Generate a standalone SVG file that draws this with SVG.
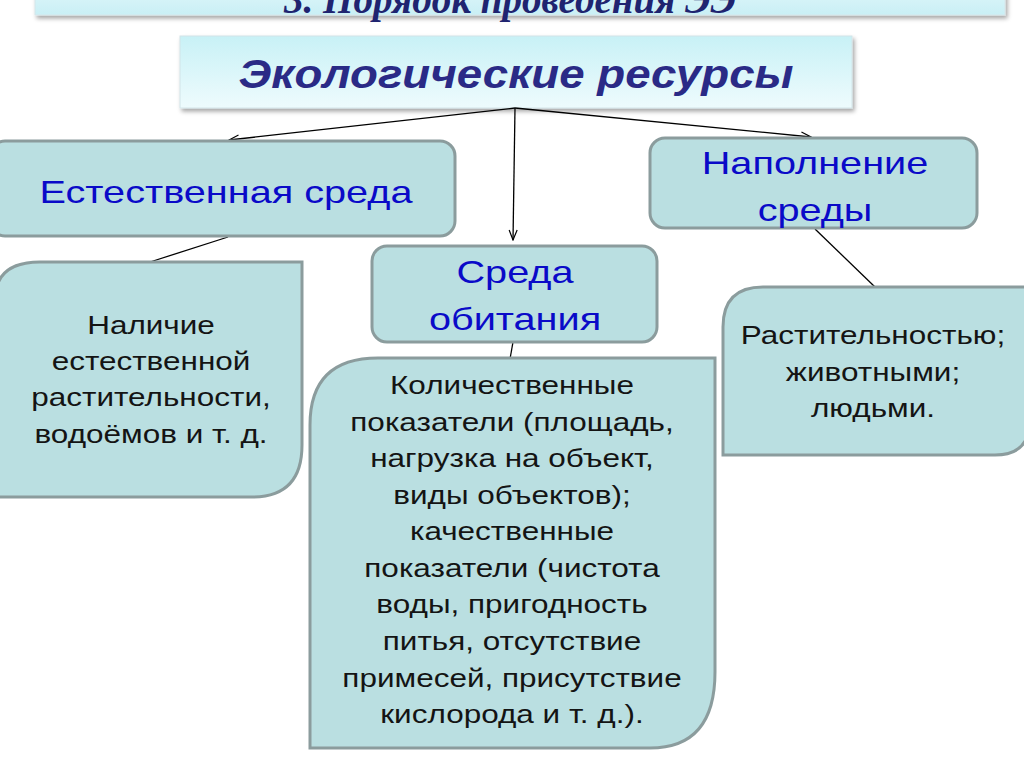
<svg xmlns="http://www.w3.org/2000/svg" width="1024" height="767" viewBox="0 0 1024 767">
<defs>
<linearGradient id="hdr" x1="0" y1="0" x2="0" y2="1">
<stop offset="0" stop-color="#f4fdfe"/>
<stop offset="1" stop-color="#c9eff5"/>
</linearGradient>
<linearGradient id="main" x1="0" y1="0" x2="0" y2="1">
<stop offset="0" stop-color="#c8f1f6"/>
<stop offset="1" stop-color="#eefbfd"/>
</linearGradient>
<filter id="sh" x="-5%" y="-10%" width="110%" height="130%">
<feDropShadow dx="2" dy="3" stdDeviation="2" flood-color="#000" flood-opacity="0.35"/>
</filter>
<marker id="arr" markerWidth="12" markerHeight="10" refX="11" refY="5" orient="auto" markerUnits="userSpaceOnUse">
<path d="M1,1 L11,5 L1,9" fill="none" stroke="#000" stroke-width="1.2"/>
</marker>
</defs>
<style>
.node{fill:#badfe1;stroke:#8b9c9d;stroke-width:3}
.blue{font-family:"Liberation Sans",Arial,sans-serif;fill:#0a0ac8;font-size:32px;text-anchor:middle}
.blk{font-family:"Liberation Sans",Arial,sans-serif;fill:#141414;font-size:25px;text-anchor:middle}
.con{stroke:#000;stroke-width:1.3;fill:none}
</style>
<rect width="1024" height="767" fill="#ffffff"/>
<g id="header">
<rect x="35" y="-40" width="970" height="55" fill="url(#hdr)" stroke="#d6e6ea" stroke-width="1" filter="url(#sh)"/>
<text x="510" y="13" font-family="'Liberation Serif',serif" font-style="italic" font-weight="bold" font-size="40" fill="#1f2470" text-anchor="middle" textLength="452" lengthAdjust="spacingAndGlyphs">3. Порядок проведения ЭЭ</text>
</g>
<g id="root">
<rect x="180" y="36" width="672" height="72" fill="url(#main)" stroke="#d2e4e8" stroke-width="1" filter="url(#sh)"/>
<text x="516" y="88" font-family="'Liberation Sans',Arial,sans-serif" font-weight="bold" font-style="italic" font-size="41" fill="#2a2a86" text-anchor="middle" textLength="555" lengthAdjust="spacingAndGlyphs">Экологические ресурсы</text>
</g>
<g id="connectors">
<line class="con" x1="515" y1="108" x2="229" y2="140" marker-end="url(#arr)"/>
<line class="con" x1="515" y1="108" x2="513" y2="240" marker-end="url(#arr)"/>
<line class="con" x1="515" y1="108" x2="811" y2="137" marker-end="url(#arr)"/>
<line class="con" x1="228" y1="237" x2="150" y2="262"/>
<line class="con" x1="513" y1="342" x2="510" y2="359"/>
<line class="con" x1="815" y1="229" x2="875" y2="287"/>
</g>
<g id="natural-env">
<rect class="node" x="-10" y="141" width="465" height="95" rx="15"/>
<g transform="translate(226,0) scale(1.24,1)">
<text class="blue" x="0" y="203">Естественная среда</text>
</g>
</g>
<g id="fill-env">
<rect class="node" x="650" y="138" width="327" height="90" rx="15"/>
<g transform="translate(815,0) scale(1.24,1)">
<text class="blue" x="0" y="174">Наполнение</text>
<text class="blue" x="0" y="221">среды</text>
</g>
</g>
<g id="habitat">
<rect class="node" x="372" y="246" width="285" height="96" rx="15"/>
<g transform="translate(515,0) scale(1.24,1)">
<text class="blue" x="0" y="283">Среда</text>
<text class="blue" x="0" y="330">обитания</text>
</g>
</g>
<g id="natural-detail">
<path class="node" d="M-5,497 L-5,300 Q-5,262 40,262 L302,262 L302,445 Q302,497 252,497 Z"/>
<g transform="translate(151,0) scale(1.26,1)">
<text class="blk" x="0" y="334">Наличие</text>
<text class="blk" x="0" y="370">естественной</text>
<text class="blk" x="0" y="406">растительности,</text>
<text class="blk" x="0" y="443">водоёмов и т. д.</text>
</g>
</g>
<g id="habitat-detail">
<path class="node" d="M310,748 L310,425 Q310,358 378,358 L715,358 L715,672 Q715,748 650,748 Z"/>
<g transform="translate(512,0) scale(1.26,1)">
<text class="blk" x="0" y="394">Количественные</text>
<text class="blk" x="0" y="431">показатели (площадь,</text>
<text class="blk" x="0" y="467">нагрузка на объект,</text>
<text class="blk" x="0" y="504">виды объектов);</text>
<text class="blk" x="0" y="540">качественные</text>
<text class="blk" x="0" y="577">показатели (чистота</text>
<text class="blk" x="0" y="613">воды, пригодность</text>
<text class="blk" x="0" y="650">питья, отсутствие</text>
<text class="blk" x="0" y="687">примесей, присутствие</text>
<text class="blk" x="0" y="723">кислорода и т. д.).</text>
</g>
</g>
<g id="fill-detail">
<path class="node" d="M723,455 L723,327 Q723,287 763,287 L1030,287 L1030,420 Q1030,455 995,455 Z"/>
<g transform="translate(873,0) scale(1.26,1)">
<text class="blk" x="0" y="344">Растительностью;</text>
<text class="blk" x="0" y="381">животными;</text>
<text class="blk" x="0" y="417">людьми.</text>
</g>
</g>
</svg>
